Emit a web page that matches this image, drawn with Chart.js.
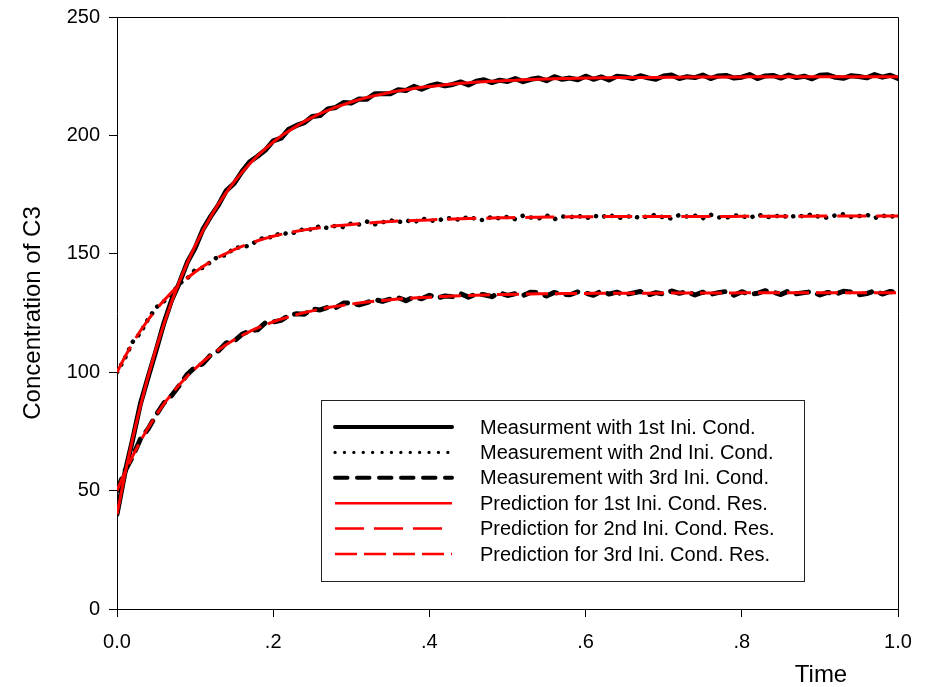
<!DOCTYPE html>
<html>
<head>
<meta charset="utf-8">
<script src="https://cdn.jsdelivr.net/npm/chart.js@4/dist/chart.umd.min.js"></script>
<style>
  html, body { margin: 0; padding: 0; background: #fff; }
  #wrap { width: 928px; height: 687px; position: relative; }
</style>
</head>
<body>
<div id="wrap"><canvas id="c"></canvas></div>
<script>
// ---------- data ----------
const time = [0,0.01,0.02,0.03,0.04,0.05,0.06,0.07,0.08,0.09,
  0.10,0.11,0.12,0.13,0.14,0.15,0.16,0.17,0.18,0.19,
  0.20,0.21,0.22,0.23,0.24,0.25,0.26,0.27,0.28,0.29,
  0.30,0.31,0.32,0.33,0.34,0.35,0.36,0.37,0.38,0.39,
  0.40,0.41,0.42,0.43,0.44,0.45,0.46,0.47,0.48,0.49,
  0.50,0.51,0.52,0.53,0.54,0.55,0.56,0.57,0.58,0.59,
  0.60,0.61,0.62,0.63,0.64,0.65,0.66,0.67,0.68,0.69,
  0.70,0.71,0.72,0.73,0.74,0.75,0.76,0.77,0.78,0.79,
  0.80,0.81,0.82,0.83,0.84,0.85,0.86,0.87,0.88,0.89,
  0.90,0.91,0.92,0.93,0.94,0.95,0.96,0.97,0.98,0.99,1.00];

const meas1 = [40.0,57.3,71.5,86.7,98.1,109.1,120.7,130.5,137.8,146.4,
  152.4,160.3,165.8,170.7,176.7,179.7,184.7,188.9,191.2,193.8,
  197.7,198.8,202.6,204.2,205.4,208.0,208.4,211.2,211.8,213.9,
  213.7,215.4,215.3,217.6,217.6,217.6,219.3,219.0,220.7,219.5,
  220.9,221.7,220.9,221.5,222.6,221.3,222.9,223.5,222.3,223.3,
  222.8,224.0,222.7,223.7,224.2,223.1,224.8,223.7,224.2,223.5,
  225.0,223.7,224.7,223.4,225.0,224.7,224.0,225.2,224.3,223.7,
  225.1,225.5,224.0,224.8,224.4,225.5,224.0,225.1,225.3,224.2,
  224.6,225.7,224.0,225.1,225.3,224.2,225.5,224.4,225.0,223.9,
  225.4,225.6,224.5,224.1,225.2,224.9,224.3,225.7,224.6,225.4,224.0];

const meas2 = [100.0,105.8,112.8,116.6,122.5,127.3,129.9,133.1,137.5,139.6,
  143.2,144.1,146.6,149.0,149.4,152.5,152.8,153.5,155.7,157.1,
  156.9,159.1,158.2,159.3,160.6,160.2,161.8,160.8,161.9,161.2,
  162.8,162.4,163.6,162.4,163.3,164.2,163.3,164.2,163.2,165.0,
  164.1,163.8,165.1,164.9,164.2,165.8,164.6,164.2,165.7,164.9,
  165.6,164.6,166.1,165.3,164.9,166.2,164.6,165.8,165.4,166.2,
  164.8,166.2,165.3,166.6,165.1,165.4,166.1,165.0,165.9,166.5,
  165.3,164.9,166.4,165.7,166.1,165.0,166.5,165.4,165.2,166.3,
  166.0,165.0,166.7,165.6,165.4,166.5,165.2,166.3,165.7,166.8,
  165.4,165.2,166.3,166.7,165.6,165.9,166.5,165.1,166.2,165.4,166.8];

const meas3 = [50.0,58.2,64.4,71.8,76.1,81.9,87.0,90.2,94.5,99.1,
  102.1,103.6,107.3,109.1,112.4,113.1,116.0,117.5,117.9,120.9,
  121.2,121.9,124.0,124.7,124.5,126.7,126.3,127.4,127.2,129.2,
  129.3,128.4,129.4,130.7,129.9,130.9,131.5,130.2,131.7,131.0,
  132.5,131.3,132.2,131.9,133.2,131.7,133.0,132.7,131.9,133.5,
  132.4,133.2,132.4,133.8,133.5,132.2,133.7,133.0,132.7,133.9,
  133.4,132.5,134.2,133.0,133.8,132.7,133.4,134.1,132.6,133.6,
  133.0,134.3,133.3,134.0,132.6,133.8,132.9,133.6,134.1,132.5,
  134.0,132.9,133.3,134.4,133.8,132.8,134.3,133.1,133.6,134.0,
  132.6,133.7,132.9,134.2,133.9,132.7,133.2,134.4,133.0,134.1,133.5];

const pred1 = [40.0,56.7,72.0,85.8,98.4,109.9,120.3,129.8,138.4,146.2,
  153.3,159.8,165.7,171.1,175.9,180.4,184.4,188.0,191.4,194.4,
  197.2,199.7,201.9,204.0,205.9,207.6,209.2,210.6,211.9,213.0,
  214.1,215.1,216.0,216.8,217.5,218.2,218.8,219.3,219.8,220.3,
  220.7,221.0,221.4,221.7,222.0,222.2,222.5,222.7,222.9,223.0,
  223.2,223.3,223.5,223.6,223.7,223.8,223.9,224.0,224.0,224.1,
  224.2,224.2,224.3,224.3,224.4,224.4,224.4,224.5,224.5,224.5,
  224.6,224.6,224.6,224.7,224.7,224.7,224.7,224.7,224.7,224.7,
  224.7,224.8,224.8,224.8,224.8,224.8,224.8,224.8,224.8,224.8,
  224.8,224.8,224.8,224.8,224.8,224.8,224.8,224.8,224.8,224.8,224.8];

const pred2 = [100.0,106.4,112.3,117.5,122.2,126.5,130.3,133.8,136.9,139.8,
  142.3,144.6,146.7,148.6,150.2,151.8,153.1,154.4,155.5,156.5,
  157.4,158.2,158.9,159.5,160.1,160.6,161.0,161.4,161.8,162.1,
  162.4,162.7,162.9,163.2,163.4,163.6,163.8,163.9,164.1,164.2,
  164.3,164.5,164.6,164.7,164.8,164.9,165.0,165.0,165.1,165.2,
  165.2,165.3,165.3,165.4,165.4,165.5,165.5,165.5,165.6,165.6,
  165.6,165.7,165.7,165.7,165.7,165.7,165.7,165.7,165.7,165.7,
  165.8,165.8,165.8,165.8,165.8,165.8,165.8,165.8,165.8,165.8,
  165.9,165.9,165.9,165.9,165.9,165.9,165.9,165.9,165.9,165.9,
  166.0,166.0,166.0,166.0,166.0,166.0,166.0,166.0,166.0,166.0,166.0];

const pred3 = [50.0,57.6,64.6,70.9,76.6,81.8,86.6,90.9,94.8,98.3,
  101.5,104.5,107.1,109.5,111.7,113.7,115.5,117.2,118.7,120.0,
  121.3,122.4,123.4,124.3,125.2,125.9,126.6,127.3,127.8,128.3,
  128.8,129.2,129.6,130.0,130.3,130.6,130.9,131.1,131.3,131.5,
  131.7,131.9,132.0,132.2,132.3,132.4,132.5,132.6,132.7,132.8,
  132.8,132.9,133.0,133.0,133.1,133.1,133.1,133.2,133.2,133.2,
  133.2,133.3,133.3,133.3,133.3,133.3,133.3,133.3,133.3,133.3,
  133.4,133.4,133.4,133.4,133.4,133.4,133.4,133.4,133.4,133.4,
  133.5,133.5,133.5,133.5,133.5,133.5,133.5,133.5,133.5,133.5,
  133.5,133.5,133.5,133.5,133.5,133.5,133.5,133.5,133.5,133.5,133.5];

const seriesLabels = [
  'Measurment with 1st Ini. Cond.',
  'Measurement with 2nd Ini. Cond.',
  'Measurement with 3rd Ini. Cond.',
  'Prediction for 1st Ini. Cond. Res.',
  'Prediction for 2nd Ini. Cond. Res.',
  'Prediction for 3rd Ini. Cond. Res.'
];
const xTickLabels = ['0.0', '.2', '.4', '.6', '.8', '1.0'];
const yTickValues = [0, 50, 100, 150, 200, 250];
const xTitle = 'Time';
const yTitle = 'Concentration of C3';

// ---------- helpers ----------
function pts(xs, ys) {
  const n = Math.min(xs.length, ys.length);
  const out = [];
  for (let i = 0; i < n; i++) out.push({ x: xs[i], y: ys[i] });
  return out;
}

const FONT = '"Liberation Sans", Arial, Helvetica, sans-serif';

const datasets = [
  { label: seriesLabels[0], data: pts(time, meas1), borderColor: '#000', borderWidth: 5,
    borderDash: [], borderCapStyle: 'round', order: 3, legendWidth: 4 },
  { label: seriesLabels[1], data: pts(time, meas2), borderColor: '#000', borderWidth: 4.5,
    borderDash: [0.1, 8.5], borderCapStyle: 'round', order: 3, legendWidth: 3.2, legendDash: [0.1, 9.3] },
  { label: seriesLabels[2], data: pts(time, meas3), borderColor: '#000', borderWidth: 5,
    borderDash: [12.5, 9.5], borderCapStyle: 'round', order: 3, legendWidth: 4 },
  { label: seriesLabels[3], data: pts(time, pred1), borderColor: '#ff0000', borderWidth: 3,
    borderDash: [], borderCapStyle: 'butt', order: 1, legendWidth: 2.5 },
  { label: seriesLabels[4], data: pts(time, pred2), borderColor: '#ff0000', borderWidth: 3,
    borderDash: [29, 10], borderCapStyle: 'butt', order: 1, legendWidth: 2.5 },
  { label: seriesLabels[5], data: pts(time, pred3), borderColor: '#ff0000', borderWidth: 3,
    borderDash: [22, 7], borderCapStyle: 'butt', order: 1, legendWidth: 2.5 }
].map(d => Object.assign({ fill: false, pointRadius: 0, tension: 0, borderJoinStyle: 'round' }, d));

// frame (top/right) + legend box + x title
const decoPlugin = {
  id: 'deco',
  afterDatasetsDraw(chart) {
    const { ctx, chartArea: a } = chart;
    ctx.save();
    ctx.strokeStyle = '#000';
    ctx.lineWidth = 1;
    ctx.beginPath();
    ctx.moveTo(a.left, Math.round(a.top) + 0.5);
    ctx.lineTo(Math.round(a.right) + 0.5, Math.round(a.top) + 0.5);
    ctx.lineTo(Math.round(a.right) + 0.5, a.bottom);
    ctx.stroke();
    ctx.restore();
  },
  afterDraw(chart) {
    const { ctx, chartArea: a } = chart;
    ctx.save();
    // legend box
    const bx = a.left + 204, by = a.top + 383, bw = 483, bh = 181;
    ctx.fillStyle = '#fff';
    ctx.fillRect(bx, by, bw, bh);
    ctx.strokeStyle = '#222';
    ctx.lineWidth = 1;
    ctx.strokeRect(Math.round(bx) + 0.5, Math.round(by) + 0.5, bw, bh);
    const rowY0 = by + 27, rowStep = 25.4;
    chart.data.datasets.forEach((ds, i) => {
      const y = rowY0 + i * rowStep;
      ctx.save();
      ctx.strokeStyle = ds.borderColor;
      ctx.lineWidth = ds.legendWidth;
      ctx.lineCap = ds.borderCapStyle;
      ctx.setLineDash(ds.legendDash || ds.borderDash || []);
      ctx.beginPath();
      ctx.moveTo(bx + 14, y);
      ctx.lineTo(bx + 131, y);
      ctx.stroke();
      ctx.restore();
      ctx.fillStyle = '#000';
      ctx.font = '20px ' + FONT;
      ctx.textBaseline = 'middle';
      ctx.textAlign = 'left';
      ctx.fillText(ds.label, bx + 159, y + 1);
    });
    // x axis title
    ctx.fillStyle = '#000';
    ctx.font = '24px ' + FONT;
    ctx.textAlign = 'center';
    ctx.textBaseline = 'alphabetic';
    ctx.fillText(xTitle, a.right - 77, a.bottom + 73);
    ctx.restore();
  }
};

Chart.defaults.color = '#000';
Chart.defaults.font.family = FONT;

new Chart(document.getElementById('c'), {
  type: 'line',
  data: { datasets },
  options: {
    responsive: true,
    maintainAspectRatio: false,
    animation: false,
    events: [],
    layout: { padding: { left: 0, top: 17, right: 30, bottom: 0 } },
    plugins: { legend: { display: false }, tooltip: { enabled: false } },
    scales: {
      x: {
        type: 'linear', min: 0, max: 1,
        afterFit: s => { s.height = 78; },
        border: { display: true, color: '#000', width: 1 },
        grid: { display: true, drawOnChartArea: false, drawTicks: true, tickLength: 8, color: '#000' },
        ticks: {
          stepSize: 0.2, padding: 13, maxRotation: 0,
          font: { size: 20, family: FONT }, color: '#000',
          callback: (v, i) => xTickLabels[i]
        },
        title: { display: false }
      },
      y: {
        type: 'linear', min: yTickValues[0], max: yTickValues[yTickValues.length - 1],
        afterFit: s => { s.width = 117; s.paddingTop = 0; s.paddingBottom = 0; },
        border: { display: true, color: '#000', width: 1 },
        grid: { display: true, drawOnChartArea: false, drawTicks: true, tickLength: 8, color: '#000' },
        ticks: {
          stepSize: 50, padding: 9,
          font: { size: 20, family: FONT }, color: '#000'
        },
        title: {
          display: true, text: yTitle, color: '#000',
          font: { size: 24, family: FONT }, padding: { top: 19, bottom: 0 }
        }
      }
    }
  },
  plugins: [decoPlugin]
});
</script>
</body>
</html>
